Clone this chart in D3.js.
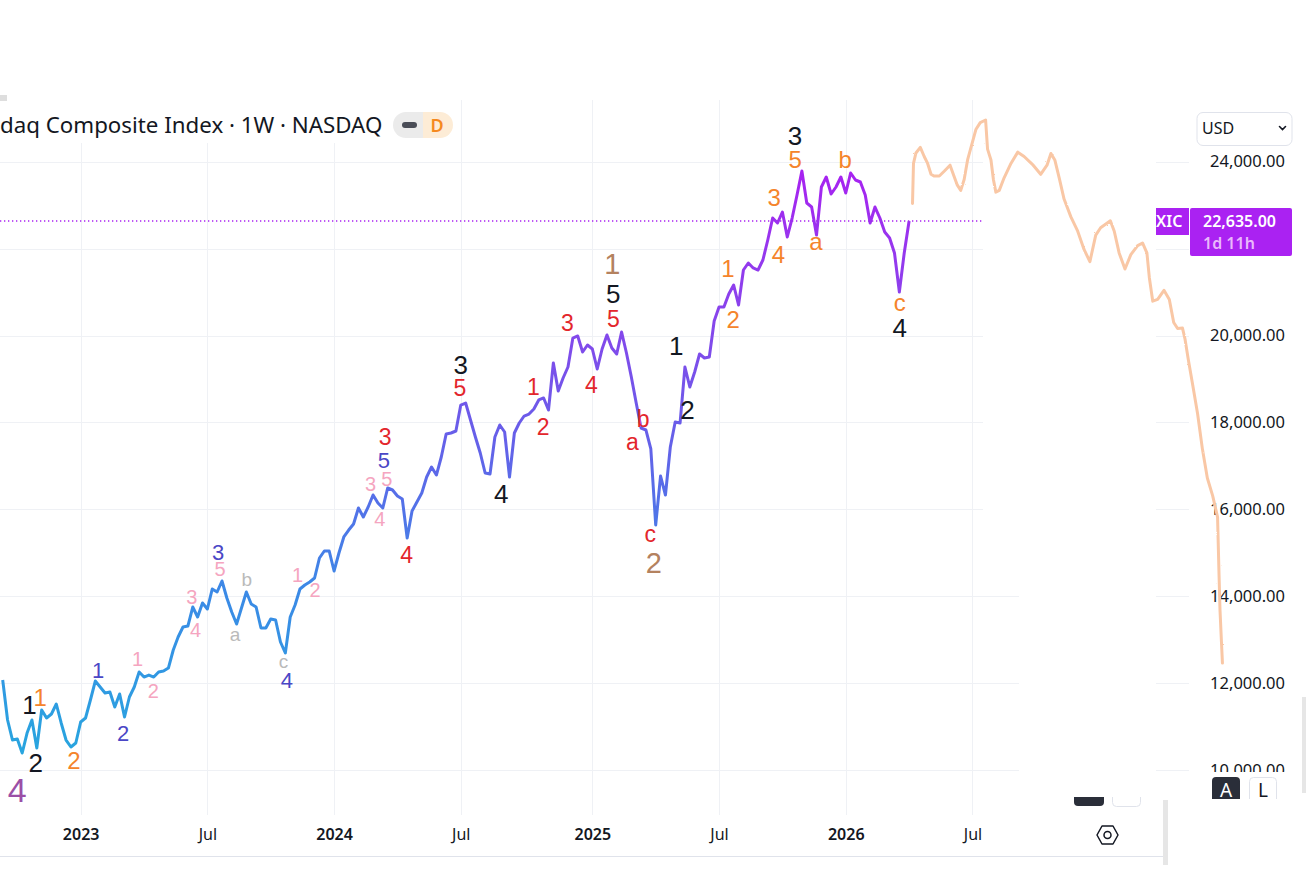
<!DOCTYPE html>
<html>
<head>
<meta charset="utf-8">
<script src="https://cdnjs.cloudflare.com/ajax/libs/d3/7.8.5/d3.min.js"></script>
<style>
  body { margin: 0; background: #fff; overflow: hidden; }
  svg { display: block; font-family: "Noto Sans", "Open Sans", sans-serif; }
</style>
</head>
<body>
<div id="chart"></div>
<script>
//Weekly closes, one per week starting with the week of 2022-09-12
const startWeek = new Date(Date.UTC(2022, 8, 12));
const weeklyClose = [
    12071, 11151, 10690, 10713, 10391, 10851, 11151, 10506, 11381, 11197,
    11289, 11519, 11082, 10690, 10529, 10621, 11105, 11197, 11611, 12048,
    11910, 11772, 11795, 11450, 11749, 11220, 11680, 11910, 12255, 12140,
    12186, 12140, 12255, 12278, 12347, 12762, 13061, 13291, 13314, 13751,
    13521, 13843, 13705, 14166, 14097, 14350, 13959, 13636, 13360, 13728,
    14097, 13820, 13751, 13268, 13268, 13475, 13452, 12946, 12693, 13521,
    13797, 14166, 14258, 14327, 14419, 14879, 15040, 15040, 14580, 14994,
    15363, 15523, 15662, 16030, 15823, 16053, 16329, 16145, 16030, 16490,
    16444, 16306, 16237, 15339, 15961, 16168, 16375, 16743, 16974, 16789,
    17204, 17733, 17756, 17802, 18400, 18446, 18055, 17664, 17296, 16835,
    16812, 17664, 17940, 17779, 16743, 17756, 17986, 18147, 18193, 18308,
    18516, 18562, 18285, 19367, 18723, 19022, 19275, 19942, 19989, 19620,
    19781, 19689, 19229, 19689, 20012, 19712, 19574, 20081, 19597, 19045,
    18446, 17871, 17825, 17388, 15639, 16766, 16329, 17434, 18009, 17986,
    19275, 18815, 19160, 19574, 19482, 19505, 20334, 20656, 20656, 20955,
    21162, 20702, 21507, 21669, 21554, 21507, 21738, 22198, 22704, 22589,
    22842, 22267, 22704, 23234, 23786, 23049, 22957, 22313, 23418, 23648,
    23257, 23418, 23648, 23280, 23740, 23579, 23533, 23234, 22589, 22957,
    22704, 22382, 22244, 21899, 21001, 21899, 22635
];
const lastPrice = 22635;
const symbolShort = "XIC";
const countdown = "1d 11h";

//Hand drawn projection: weeks after the last bar, price level
const projWeeks = [0.7, 0.9, 1.4, 2.3, 3.1, 3.8, 4.5, 5.1, 6.2, 7.2, 8.4, 9.2, 9.9, 10.6, 11.3, 12.0, 12.8, 13.7, 14.6, 15.7,
    16.1, 16.8, 17.3, 17.8, 18.5, 19.5, 20.9, 22.3, 23.6, 25.3, 27.0, 28.3, 29.1, 29.9, 30.8, 31.8, 33.2, 34.6, 35.9, 37.1,
    38.3, 39.3, 41.3, 42.1, 43.1, 44.3, 45.5, 46.9, 47.9, 48.8, 49.3, 50.0, 51.0, 52.3, 53.4, 54.3, 55.1, 56.1, 56.6, 57.3,
    58.2, 59.2, 60.2, 61.2, 62.3, 63.3, 63.6, 63.8, 64.1, 64.3];
const projValues = [23040, 23960, 24200, 24330, 24120, 23960, 23710, 23670, 23670, 23780, 23920, 23670, 23460, 23340, 23590, 24040, 24370, 24740, 24900, 24960,
    24290, 24040, 23590, 23300, 23340, 23630, 23960, 24220, 24120, 23940, 23710, 23920, 24190, 24040, 23630, 23140, 22730, 22400, 21980, 21700,
    22310, 22480, 22640, 22400, 21900, 21530, 21860, 22070, 22130, 21900, 21330, 20790, 20830, 21040, 20830, 20300, 20160, 20170, 19930, 19440,
    18860, 18200, 17380, 16720, 16310, 15820, 14500, 13680, 12940, 12460];

//Axis ticks (22,000 sits under the last price label, so it gets a grid line only)
const priceTicks = [24000, 22000, 20000, 18000, 16000, 14000, 12000, 10000];
const priceLabelTicks = [24000, 20000, 18000, 16000, 14000, 12000, 10000];
const timeTicks = [
    new Date(Date.UTC(2023, 0, 2)), new Date(Date.UTC(2023, 6, 3)),
    new Date(Date.UTC(2024, 0, 1)), new Date(Date.UTC(2024, 6, 1)),
    new Date(Date.UTC(2025, 0, 6)), new Date(Date.UTC(2025, 6, 7)),
    new Date(Date.UTC(2026, 0, 5)), new Date(Date.UTC(2026, 6, 6))
];
const timeTickLabels = ["2023", "Jul", "2024", "Jul", "2025", "Jul", "2026", "Jul"];

//Elliott wave labels: text, bar index (weeks from start), price level, wave degree
const waveText   = ["4",
    "1", "2", "3", "4", "5", "1", "2", "3", "4",
    "1", "2", "1", "2", "3", "4", "5", "a", "b", "c",
    "1", "2", "3", "4", "5",
    "1", "2", "3", "4", "5", "1", "2", "3", "4", "5",
    "a", "b", "c",
    "3", "4", "5", "1", "2", "3", "4", "5", "a", "b", "c",
    "1", "2"];
const waveIndex  = [3.0,
    5.5, 6.8, 94.0, 102.3, 125.3, 138.2, 140.5, 162.6, 184.1,
    7.7, 14.6, 148.8, 149.9, 158.3, 159.2, 162.6, 166.9, 172.9, 184.1,
    19.6, 24.7, 44.2, 58.3, 78.2,
    27.7, 30.9, 38.8, 39.6, 44.6, 60.5, 64.1, 75.5, 77.4, 78.8,
    47.7, 50.1, 57.6,
    78.5, 82.9, 93.8, 108.9, 110.9, 115.9, 120.8, 125.3, 129.2, 131.4, 132.9,
    125.1, 133.6];
const waveValue  = [9540,
    11500, 10180, 19320, 16350, 20970, 19760, 18300, 24590, 20180,
    11680, 10230, 21540, 20360, 23180, 21860, 24060, 22110, 24060, 20700,
    12300, 10860, 15020, 12070, 17140,
    12550, 11830, 13980, 13220, 14620, 14490, 14140, 16580, 15780, 16700,
    13080, 14390, 12460,
    17670, 14950, 18790, 18820, 17900, 20300, 18860, 20380, 17510, 18080, 15390,
    21660, 14770];
const waveDegree = ["cycle",
    "inter", "inter", "inter", "inter", "inter", "inter", "inter", "inter", "inter",
    "minor", "minor", "minor", "minor", "minor", "minor", "minor", "minor", "minor", "minor",
    "minuette", "minuette", "minuette", "minuette", "minuette",
    "sub", "sub", "sub", "sub", "sub", "sub", "sub", "sub", "sub", "sub",
    "subcorr", "subcorr", "subcorr",
    "minute", "minute", "minute", "minute", "minute", "minute", "minute", "minute", "minute", "minute", "minute",
    "primary", "primary"];

const degreeStyle = {
    cycle:    { color: "#9b4fa6", size: 34 },
    primary:  { color: "#b4825f", size: 29 },
    inter:    { color: "#131722", size: 26 },
    minor:    { color: "#f5842b", size: 24 },
    minute:   { color: "#e3262c", size: 23 },
    minuette: { color: "#4a47c6", size: 22 },
    sub:      { color: "#f5a5c0", size: 20 },
    subcorr:  { color: "#bababa", size: 19 }
};

const WEEK = 7 * 864e5;
function weekAt(i) { return new Date(startWeek.getTime() + i * WEEK); }

const W = 1309, H = 882;
const svg = d3.select("#chart").append("svg").attr("width", W).attr("height", H);
const defs = svg.append("defs");

const x = d3.scaleUtc()
    .domain([startWeek, weekAt(weeklyClose.length - 1)])
    .range([2.7, 909.1]);
const y = d3.scaleLinear()
    .domain([10000, 24000])
    .range([770, 161.7]);

//Line colour follows price, blue at the bottom to purple at the top
const grad = defs.append("linearGradient")
    .attr("id", "priceGrad")
    .attr("gradientUnits", "userSpaceOnUse")
    .attr("x1", 0).attr("x2", 0)
    .attr("y1", y(10000)).attr("y2", y(24000));
[[0, "#26a8de"], [0.29, "#3b8ae6"], [0.43, "#5272e8"], [0.57, "#6a5ce9"], [0.71, "#8249eb"], [0.86, "#9736ee"], [1, "#a920f1"]]
    .forEach(s => grad.append("stop").attr("offset", s[0]).attr("stop-color", s[1]));

const rough = defs.append("filter").attr("id", "rough");
rough.append("feTurbulence").attr("type", "fractalNoise").attr("baseFrequency", 0.9).attr("numOctaves", 1).attr("result", "n");
rough.append("feDisplacementMap").attr("in", "SourceGraphic").attr("in2", "n").attr("scale", 2);

//Grid
const grid = svg.append("g").attr("stroke", "#eff1f5").attr("stroke-width", 1);
grid.selectAll(".vg").data(timeTicks).enter().append("line")
    .attr("x1", d => Math.round(x(d)) + 0.5).attr("x2", d => Math.round(x(d)) + 0.5)
    .attr("y1", 100).attr("y2", 815);
grid.selectAll(".hg").data(priceTicks).enter().append("line")
    .attr("x1", 0).attr("x2", d => d >= 16000 ? 983 : 1019)
    .attr("y1", d => Math.round(y(d)) + 0.5).attr("y2", d => Math.round(y(d)) + 0.5);
grid.selectAll(".hs").data(priceTicks).enter().append("line")
    .attr("x1", 1156).attr("x2", 1189)
    .attr("y1", d => Math.round(y(d)) + 0.5).attr("y2", d => Math.round(y(d)) + 0.5);

//Legend background covers the grid
svg.append("rect").attr("x", 0).attr("y", 100).attr("width", 456).attr("height", 43).attr("fill", "#fff");
svg.append("rect").attr("x", 0).attr("y", 95).attr("width", 7).attr("height", 6).attr("fill", "#dedede");

//Last price line
svg.append("line")
    .attr("x1", 0).attr("x2", 983)
    .attr("y1", y(lastPrice)).attr("y2", y(lastPrice))
    .attr("stroke", "#a920f1").attr("stroke-width", 1.3)
    .attr("stroke-dasharray", "1.3,2.7");

//Price series
const line = d3.line()
    .x((d, i) => x(weekAt(i)))
    .y(d => y(d));
svg.append("path")
    .datum(weeklyClose)
    .attr("fill", "none")
    .attr("stroke", "url(#priceGrad)")
    .attr("stroke-width", 3)
    .attr("stroke-linejoin", "round")
    .attr("d", line);

//Wave labels
const waves = waveText.map((t, i) => ({ t: t, i: waveIndex[i], v: waveValue[i], deg: waveDegree[i] }));
svg.append("g")
    .attr("font-family", "'Liberation Sans', Arial, sans-serif")
    .attr("text-anchor", "middle")
    .selectAll("text")
    .data(waves)
    .enter().append("text")
        .attr("x", d => x(weekAt(d.i)))
        .attr("y", d => y(d.v) + (/[ac]/.test(d.t) ? 0.26 : 0.36) * degreeStyle[d.deg].size)
        .attr("font-size", d => degreeStyle[d.deg].size)
        .attr("fill", d => degreeStyle[d.deg].color)
        .text(d => d.t);

//Legend title and badge
svg.append("text")
    .attr("x", 0).attr("y", 133)
    .attr("font-size", 22.3).attr("fill", "#131722")
    .text("daq Composite Index · 1W · NASDAQ");
const badge = svg.append("g");
badge.append("rect").attr("x", 393).attr("y", 112).attr("width", 46).attr("height", 26).attr("rx", 13).attr("fill", "#ebebeb");
badge.append("rect").attr("x", 423).attr("y", 112).attr("width", 30).attr("height", 26).attr("rx", 13).attr("fill", "#fdecd6");
badge.append("rect").attr("x", 423).attr("y", 112).attr("width", 14).attr("height", 26).attr("fill", "#fdecd6");
badge.append("rect").attr("x", 402).attr("y", 122).attr("width", 15).attr("height", 6).attr("rx", 3).attr("fill", "#4a4d57");
badge.append("text").attr("x", 437).attr("y", 132).attr("text-anchor", "middle")
    .attr("font-size", 18).attr("font-weight", 600).attr("fill", "#f5891f").text("D");

//Price axis
const yAxis = svg.append("g")
    .attr("transform", "translate(1288,0)")
    .call(d3.axisLeft(y).tickValues(priceLabelTicks).tickSize(0).tickPadding(3).tickFormat(d3.format(",.2f")));
yAxis.select(".domain").remove();
yAxis.selectAll("text").attr("font-size", 16.5).attr("fill", "#131722").attr("font-family", "'Noto Sans', sans-serif");

//Time axis
const xAxis = svg.append("g")
    .attr("transform", "translate(0,829)")
    .call(d3.axisBottom(x).tickValues(timeTicks).tickSize(0).tickPadding(0).tickFormat((d, i) => timeTickLabels[i]));
xAxis.select(".domain").remove();
xAxis.selectAll("text")
    .attr("font-size", 16).attr("fill", "#131722").attr("font-family", "'Noto Sans', sans-serif")
    .attr("font-weight", (d, i) => timeTickLabels[i] === "Jul" ? 400 : 600);
svg.append("line").attr("x1", 0).attr("x2", 1163).attr("y1", 856.5).attr("y2", 856.5).attr("stroke", "#e0e3eb");

//Currency selector
svg.append("rect").attr("x", 1197).attr("y", 112.5).attr("width", 95).attr("height", 33).attr("rx", 6)
    .attr("fill", "#fff").attr("stroke", "#e0e3eb");
svg.append("text").attr("x", 1202).attr("y", 134).attr("font-size", 16).attr("fill", "#131722").text("USD");
svg.append("path").attr("d", "M1279.5,126.5 L1282.5,129.5 L1285.5,126.5").attr("fill", "none")
    .attr("stroke", "#131722").attr("stroke-width", 1.6).attr("stroke-linecap", "round");

//Last price label
svg.append("rect").attr("x", 1156).attr("y", 208).attr("width", 33).attr("height", 27).attr("fill", "#aa22f2");
svg.append("text").attr("x", 1156).attr("y", 227).attr("font-size", 16).attr("font-weight", 600)
    .attr("fill", "#fff").text(symbolShort);
svg.append("rect").attr("x", 1190).attr("y", 208).attr("width", 102).attr("height", 48).attr("rx", 2).attr("fill", "#aa22f2");
svg.append("text").attr("x", 1203).attr("y", 227).attr("font-size", 16).attr("font-weight", 600)
    .attr("fill", "#fff").text(d3.format(",.2f")(lastPrice));
svg.append("text").attr("x", 1203).attr("y", 249).attr("font-size", 16).attr("font-weight", 600)
    .attr("fill", "#e9b8fb").text(countdown);

//Projection drawn on top
svg.append("path")
    .datum(projWeeks.map((w, i) => [w, projValues[i]]))
    .attr("fill", "none")
    .attr("stroke", "#f9c7a5")
    .attr("stroke-width", 3)
    .attr("stroke-linejoin", "round")
    .attr("stroke-linecap", "round")
    .attr("filter", "url(#rough)")
    .attr("d", d3.line()
        .x(d => x(new Date(weekAt(weeklyClose.length - 1).getTime() + d[0] * WEEK)))
        .y(d => y(d[1])));

//Bottom right controls
svg.append("rect").attr("x", 1170).attr("y", 772).attr("width", 139).attr("height", 110).attr("fill", "#fff");
svg.append("rect").attr("x", 1302).attr("y", 697).attr("width", 4).attr("height", 96).attr("fill", "#e6e6e6");
svg.append("rect").attr("x", 1163).attr("y", 800).attr("width", 5).attr("height", 65).attr("fill", "#e6e6e6");
svg.append("rect").attr("x", 1212).attr("y", 777).attr("width", 28).attr("height", 28).attr("rx", 4).attr("fill", "#2a2e39");
svg.append("text").attr("x", 1226).attr("y", 797).attr("text-anchor", "middle").attr("font-size", 19).attr("fill", "#fff").text("A");
svg.append("rect").attr("x", 1249.5).attr("y", 777.5).attr("width", 27).attr("height", 28).attr("rx", 4)
    .attr("fill", "#fff").attr("stroke", "#e0e3eb");
svg.append("text").attr("x", 1263).attr("y", 797).attr("text-anchor", "middle").attr("font-size", 19).attr("fill", "#131722").text("L");
svg.append("rect").attr("x", 1170).attr("y", 799).attr("width", 132).attr("height", 83).attr("fill", "#fff");
svg.append("rect").attr("x", 1074).attr("y", 790).attr("width", 30).attr("height", 16).attr("rx", 4).attr("fill", "#2a2e39");
svg.append("rect").attr("x", 1112.5).attr("y", 790.5).attr("width", 28).attr("height", 16).attr("rx", 4)
    .attr("fill", "#fff").attr("stroke", "#e0e3eb");
svg.append("rect").attr("x", 1060).attr("y", 780).attr("width", 100).attr("height", 17).attr("fill", "#fff");

//Settings hexagon
svg.append("path").attr("d", "M1097,835 L1102,826 L1113,826 L1118,835 L1113,844 L1102,844 Z")
    .attr("fill", "none").attr("stroke", "#131722").attr("stroke-width", 1.5).attr("stroke-linejoin", "round");
svg.append("circle").attr("cx", 1107.5).attr("cy", 835).attr("r", 3.5)
    .attr("fill", "none").attr("stroke", "#131722").attr("stroke-width", 1.5);
</script>
</body>
</html>
